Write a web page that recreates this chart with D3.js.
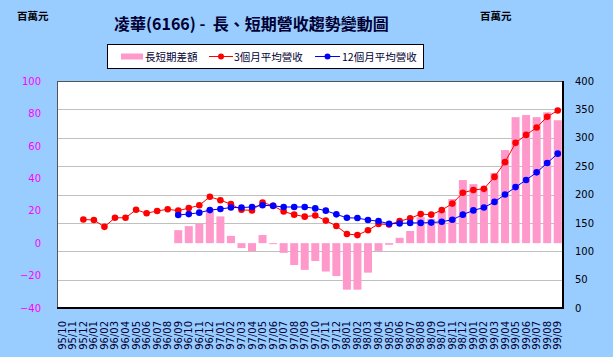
<!DOCTYPE html>
<html><head><meta charset="utf-8">
<script src="https://cdn.jsdelivr.net/npm/d3@7"></script>
<style>body{margin:0;background:#99CCFF;}svg{display:block;}</style>
</head><body>
<svg id="c" width="613" height="357"></svg>
<script>
const categories = ["95/10","95/11","95/12","96/01","96/02","96/03","96/04","96/05","96/06","96/07","96/08","96/09","96/10","96/11","96/12","97/01","97/02","97/03","97/04","97/05","97/06","97/07","97/08","97/09","97/10","97/11","97/12","98/01","98/02","98/03","98/04","98/05","98/06","98/07","98/08","98/09","98/10","98/11","98/12","99/01","99/02","99/03","99/04","99/05","99/06","99/07","99/08","99/09"];
const diffValues = [null,null,null,null,null,null,null,null,null,null,null,8,10.5,12,21,16.5,4.5,-3,-5,5,-0.5,-6,-13.5,-16.5,-11,-17.5,-20.3,-28.7,-28.7,-18.2,-4.8,-1,3.3,7.5,16,15,20,27.2,38.9,36.4,34,43.3,57.4,77.7,79,77.7,80.7,75.8];
const avg3Values = [null,null,156,155,143,159,159,173,167,171,174,171.5,176,181,196,190,183,173,172,186,180,170,164.5,161,163,154,144.5,130.5,128.5,137,148,147,153,158,165.5,164.5,172.5,184,203,208,210,231,257,291,305,318,337,348];
const avg12Values = [null,null,null,null,null,null,null,null,null,null,null,164,165.5,168,172.5,174.5,177,177,178,181,180,178,178,178,175.5,171.5,165,159,158.5,155,153,148.5,149,150,150,150.5,152,155.5,164.5,172,177,187,200,213,225.5,239,255.5,272];
const leftTicks = [-40,-20,0,20,40,60,80,100];
const rightTicks = [0,50,100,150,200,250,300,350,400];
const titleText = "凌華(6166) -  長、短期營收趨勢變動圖";
const unitText = "百萬元";
const legendNames = ["長短期差額","3個月平均營收","12個月平均營收"];

const svg = d3.select("#c");
const X0=57, X1=563, Y0=81, Y1=308;
const cjk = "'Noto Sans CJK TC','Noto Sans CJK SC',sans-serif";
const num = "'DejaVu Sans',sans-serif";

svg.append("rect").attr("width",613).attr("height",357).attr("fill","#99CCFF");

const x = d3.scaleBand().domain(categories).range([X0,X1]).paddingInner(0.24).paddingOuter(0.12);
const cx = c => x(c) + x.bandwidth()/2;
const yL = d3.scaleLinear().domain([-40,100]).range([Y1,Y0]);
const yR = d3.scaleLinear().domain([0,400]).range([Y1,Y0]);

// plot area
svg.append("rect").attr("x",X0).attr("y",Y0).attr("width",X1-X0).attr("height",Y1-Y0).attr("fill","#fff");

// gridlines (right axis)
svg.append("g").selectAll("line").data(rightTicks.filter(t=>t>0&&t<400)).join("line")
  .attr("x1",X0).attr("x2",X1).attr("y1",d=>Math.round(yR(d))+0.5).attr("y2",d=>Math.round(yR(d))+0.5)
  .attr("stroke","#C0C0C0").attr("stroke-width",1);

// bars
const barData = categories.map((c,i)=>({c,v:diffValues[i]})).filter(d=>d.v!==null);
svg.append("g").selectAll("rect").data(barData).join("rect")
  .attr("x",d=>x(d.c)).attr("width",x.bandwidth())
  .attr("y",d=>yL(Math.max(0,d.v))).attr("height",d=>Math.max(1,Math.abs(yL(d.v)-yL(0))))
  .attr("fill","#FF99CC");

function drawLine(vals,color){
  const data = categories.map((c,i)=>({c,v:vals[i]})).filter(d=>d.v!==null);
  const g = svg.append("g");
  g.append("path").datum(data).attr("fill","none").attr("stroke",color).attr("stroke-width",1)
    .attr("d",d3.line().x(d=>cx(d.c)).y(d=>yR(d.v)));
  g.selectAll("circle").data(data).join("circle")
    .attr("cx",d=>cx(d.c)).attr("cy",d=>yR(d.v)).attr("r",3.3).attr("fill",color);
}
drawLine(avg3Values,"#FF0000");
drawLine(avg12Values,"#0000FF");

// border
svg.append("rect").attr("x",X0+0.5).attr("y",Y0+0.5).attr("width",X1-X0-1).attr("height",Y1-Y0-1)
  .attr("fill","none").attr("stroke","#555").attr("stroke-width",1);
svg.append("line").attr("x1",X1).attr("x2",X1).attr("y1",Y0).attr("y2",Y1+1).attr("stroke","#000").attr("stroke-width",2);
svg.append("line").attr("x1",X0).attr("x2",X1+1).attr("y1",Y1).attr("y2",Y1).attr("stroke","#000").attr("stroke-width",2);

// axes
const la = svg.append("g").attr("transform",`translate(${X0},0)`)
  .call(d3.axisLeft(yL).tickValues(leftTicks).tickSize(0).tickPadding(16));
la.select(".domain").remove();
la.selectAll("text").attr("fill","#FF00FF").style("font-family",num).style("font-size","10px");

const ra = svg.append("g").attr("transform",`translate(${X1},0)`)
  .call(d3.axisRight(yR).tickValues(rightTicks).tickSize(0).tickPadding(12));
ra.select(".domain").remove();
ra.selectAll("text").attr("fill","#000").style("font-family",num).style("font-size","10px");

const xa = svg.append("g").attr("transform",`translate(0,${Y1})`)
  .call(d3.axisBottom(x).tickSize(0));
xa.select(".domain").remove();
xa.selectAll("text").attr("x",0).attr("y",0).attr("dy",null)
  .attr("transform","translate(0,13) rotate(-90)")
  .attr("text-anchor","end").attr("dominant-baseline","central")
  .attr("fill","#000033").style("font-family",num).style("font-size","10px");

// title and units
svg.append("text").attr("x",114).attr("y",30).text(titleText).style("white-space","pre")
  .style("font-family",cjk).style("font-size","16px").style("font-weight","bold").attr("fill","#000033");
svg.append("text").attr("x",17).attr("y",20).text(unitText)
  .style("font-family",cjk).style("font-size","10.5px").style("font-weight","bold").attr("fill","#000");
svg.append("text").attr("x",480).attr("y",20).text(unitText)
  .style("font-family",cjk).style("font-size","10.5px").style("font-weight","bold").attr("fill","#000");

// legend
const lg = svg.append("g");
lg.append("rect").attr("x",107.5).attr("y",44.5).attr("width",316).attr("height",24)
  .attr("fill","#fff").attr("stroke","#000").attr("stroke-width",1);
const ly = 56.5;
lg.append("rect").attr("x",121).attr("y",ly-3).attr("width",22).attr("height",6).attr("fill","#FF99CC");
lg.append("line").attr("x1",209).attr("x2",233).attr("y1",ly).attr("y2",ly).attr("stroke","#FF0000");
lg.append("circle").attr("cx",221).attr("cy",ly).attr("r",3).attr("fill","#FF0000");
lg.append("line").attr("x1",315).attr("x2",340).attr("y1",ly).attr("y2",ly).attr("stroke","#0000FF");
lg.append("circle").attr("cx",327.5).attr("cy",ly).attr("r",3).attr("fill","#0000FF");
const lx = [145,234,342];
lg.selectAll("text.l").data(legendNames).join("text").attr("class","l")
  .attr("x",(d,i)=>lx[i]).attr("y",ly).attr("dominant-baseline","central").text(d=>d)
  .style("font-family",cjk).style("font-size","10.5px").attr("fill","#000033");
</script>
</body></html>
